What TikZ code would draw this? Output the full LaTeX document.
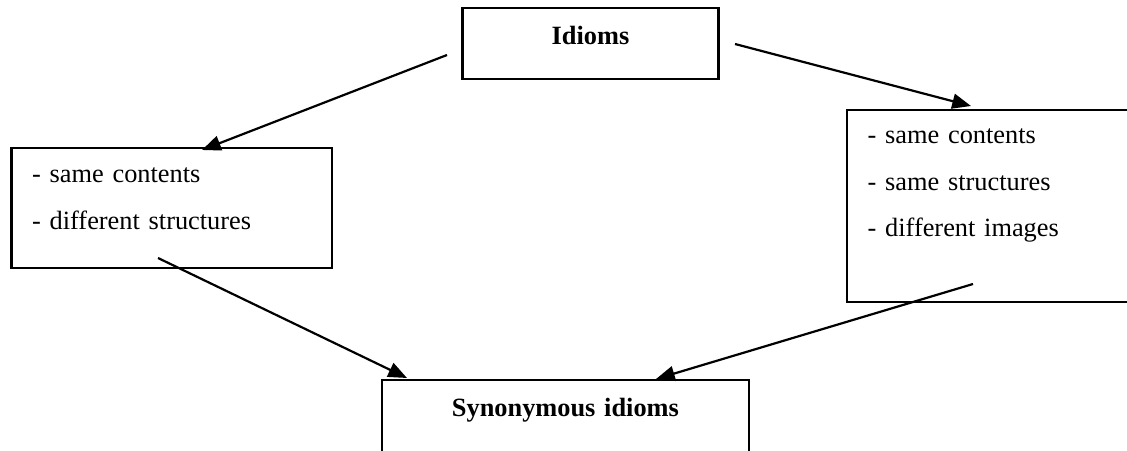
\documentclass[tikz,border=0pt]{standalone}
\usepackage{fontspec}
\setmainfont{Liberation Serif}
\usetikzlibrary{arrows.meta, calc}
\begin{document}
\begin{tikzpicture}[
  x=0.016cm, y=-0.016cm,
  font=\fontsize{12}{21}\selectfont,
  titlebox/.style={
    rectangle, draw=black, line width=1.1pt, anchor=north west,
    outer sep=0pt, inner xsep=0pt, inner ysep=0pt,
    align=center, font=\fontsize{12}{21}\selectfont\bfseries
  },
  listbox/.style={
    rectangle, draw=black, line width=1.1pt, anchor=north west,
    outer sep=0pt, inner xsep=0.33cm, inner ysep=0pt, align=left
  },
  arrow/.style={-{Triangle[length=0.3cm, width=0.24cm]}, line width=1pt}
]
\useasboundingbox (0,0) rectangle (1127,451);
\node[titlebox, text width=4.096cm, text height=0.592cm, text depth=0.544cm]
  (idioms) at (462.5,8) {Idioms};
\node[listbox, text width=4.468cm, text height=0.56cm, text depth=1.36cm]
  (lbox) at (11.5,148) {- same contents\\- different structures};
\node[listbox, text width=3.852cm, text height=0.544cm, text depth=2.528cm]
  (rbox) at (847,110) {- same contents\\- same structures\\- different images};
\node[titlebox, text width=5.872cm, text height=0.59cm, text depth=0.61cm]
  (bbox) at (382,380) {Synonymous idioms};
% free ends of the connectors
\coordinate (s1) at (447,55);
\coordinate (s2) at (735,44);
\coordinate (s3) at (158,258);
\coordinate (s4) at (973,284);
\draw[arrow] (s1) -- ($(lbox.north west)+(190.5,2)$);
\draw[arrow] (s2) -- ($(rbox.north west)+(124,-4)$);
\draw[arrow] (s3) -- ($(bbox.north west)+(25,-2)$);
\draw[arrow] (s4) -- ($(bbox.north west)+(274,-1)$);
\end{tikzpicture}
\end{document}
